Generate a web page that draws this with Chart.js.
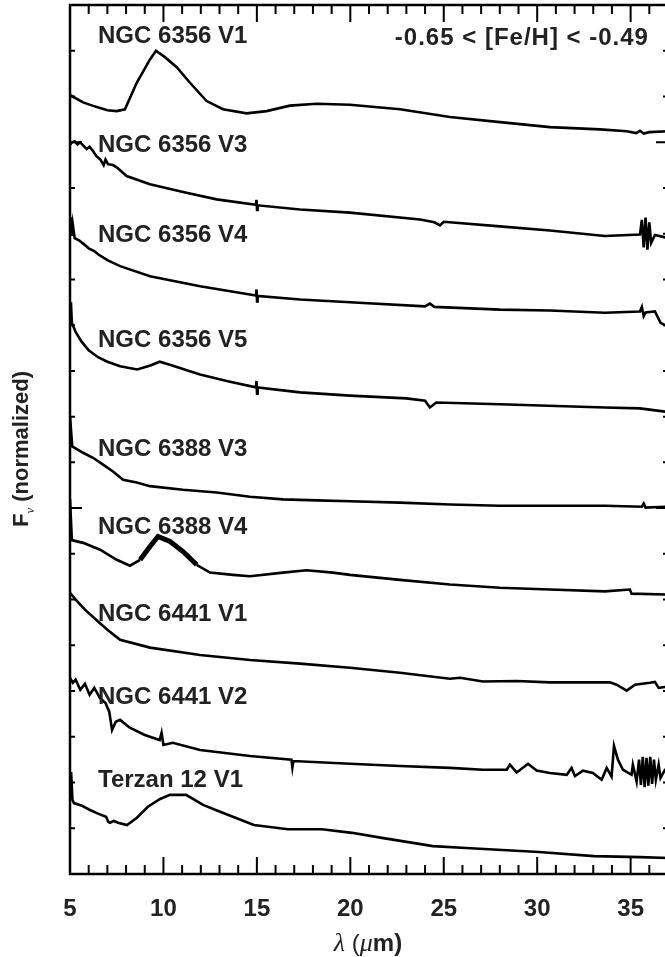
<!DOCTYPE html>
<html>
<head>
<meta charset="utf-8">
<script src="https://cdn.jsdelivr.net/npm/chart.js@4.4.0/dist/chart.umd.min.js"></script>
<style>
  html, body { margin: 0; padding: 0; background: #fff; overflow: hidden; }
  #wrap { width: 668px; height: 957px; }
</style>
</head>
<body>
<div id="wrap"><canvas id="spectra" width="668" height="957"></canvas></div>
<script>
// star names, top to bottom
const starNames = ['NGC 6356 V1', 'NGC 6356 V3', 'NGC 6356 V4', 'NGC 6356 V5',
    'NGC 6388 V3', 'NGC 6388 V4', 'NGC 6441 V1', 'NGC 6441 V2', 'Terzan 12 V1'];

const metallicity = '-0.65 < [Fe/H] < -0.49';

// wavelength (micron) / offset normalized flux
const wl_6356v1 = [5.0, 5.09, 5.7, 6.2, 6.61, 7.0, 7.5, 7.94, 8.57, 9.28, 9.6, 10.08, 10.71, 11.42, 12.31, 13.19, 14.45, 15.52, 16.77, 18.2, 19.98, 22.66, 25.33, 28.01, 30.68, 33.36, 34.8, 35.3, 35.5, 35.7, 36.0, 37.0];
const fl_6356v1 = [17.03, 17.01, 16.87, 16.8, 16.75, 16.7, 16.68, 16.72, 17.3, 17.81, 18.0, 17.86, 17.64, 17.3, 16.9, 16.72, 16.63, 16.68, 16.8, 16.84, 16.82, 16.72, 16.55, 16.44, 16.33, 16.28, 16.24, 16.2, 16.25, 16.19, 16.22, 16.24];

const wl_6356v3 = [5.0, 5.09, 5.25, 5.4, 5.54, 5.7, 5.89, 6.05, 6.23, 6.4, 6.61, 6.8, 6.9, 7.03, 7.3, 7.5, 8.03, 9.28, 11.05, 12.85, 14.95, 14.98, 15.01, 15.04, 17.31, 19.98, 23.73, 24.5, 24.8, 25.0, 28.01, 30.68, 33.62, 35.5, 35.6, 35.7, 35.8, 35.9, 36.0, 36.1, 36.3, 36.84, 37.0];
const fl_6356v3 = [15.95, 15.99, 16.02, 15.95, 16.0, 15.93, 15.85, 15.9, 15.81, 15.7, 15.63, 15.5, 15.62, 15.52, 15.5, 15.45, 15.26, 15.08, 14.91, 14.75, 14.63, 14.74, 14.52, 14.62, 14.53, 14.46, 14.31, 14.25, 14.18, 14.26, 14.16, 14.07, 13.95, 13.98, 14.3, 13.7, 14.35, 13.65, 14.25, 13.8, 13.97, 13.92, 13.92];

const wl_6356v4 = [5.0, 5.05, 5.1, 5.15, 5.25, 5.5, 5.8, 6.0, 6.3, 6.5, 7.0, 7.68, 9.28, 11.96, 14.95, 14.98, 15.01, 15.04, 17.31, 19.98, 24.0, 24.26, 24.5, 28.01, 30.68, 33.62, 35.5, 35.6, 35.7, 35.8, 36.3, 36.6, 36.84, 37.0];
const fl_6356v4 = [14.1, 14.36, 13.95, 14.2, 13.9, 13.85, 13.75, 13.68, 13.62, 13.55, 13.42, 13.29, 13.07, 12.85, 12.65, 12.78, 12.52, 12.64, 12.56, 12.5, 12.41, 12.47, 12.4, 12.34, 12.32, 12.27, 12.3, 12.4, 12.2, 12.28, 12.3, 12.05, 12.0, 12.0];

const wl_6356v5 = [5.0, 5.05, 5.1, 5.3, 5.6, 6.0, 6.5, 7.0, 7.68, 8.6, 9.3, 9.8, 10.3, 11.96, 13.5, 14.95, 14.98, 15.01, 15.04, 17.31, 19.98, 23.0, 24.0, 24.26, 24.6, 28.01, 33.62, 35.5, 36.84, 37.0];
const fl_6356v5 = [12.13, 12.5, 12.05, 11.85, 11.65, 11.45, 11.3, 11.2, 11.1, 11.03, 11.12, 11.2, 11.14, 10.92, 10.77, 10.64, 10.78, 10.5, 10.64, 10.53, 10.46, 10.4, 10.35, 10.2, 10.31, 10.27, 10.2, 10.18, 10.11, 10.11];

const wl_6388v3 = [5.0, 5.12, 5.7, 6.23, 6.77, 7.3, 7.84, 8.57, 9.28, 11.05, 12.85, 14.63, 16.4, 18.2, 19.98, 22.66, 25.33, 28.01, 33.62, 35.6, 35.7, 35.8, 36.84, 37.0];
const fl_6388v3 = [10.01, 9.35, 9.21, 9.1, 8.95, 8.8, 8.62, 8.56, 8.48, 8.4, 8.34, 8.25, 8.19, 8.17, 8.15, 8.12, 8.08, 8.05, 8.05, 8.03, 8.1, 8.01, 8.03, 8.03];

const wl_6388v4 = [5.0, 5.1, 5.7, 6.61, 7.5, 8.21, 8.75, 9.28, 9.71, 10.35, 11.05, 11.78, 12.49, 13.72, 14.63, 16.4, 17.66, 19.07, 19.98, 22.66, 25.33, 28.01, 30.68, 33.62, 34.96, 35.05, 36.84, 37.0];
const fl_6388v4 = [8.2, 7.3, 7.24, 7.09, 6.87, 6.74, 6.87, 7.16, 7.38, 7.27, 7.05, 6.76, 6.59, 6.54, 6.51, 6.59, 6.64, 6.59, 6.54, 6.43, 6.33, 6.26, 6.22, 6.18, 6.22, 6.13, 6.11, 6.11];

const wl_6441v1 = [5.0, 5.3, 5.8, 6.5, 7.0, 7.68, 9.28, 11.96, 14.63, 17.31, 19.98, 22.66, 25.33, 25.87, 27.1, 28.9, 30.68, 33.89, 34.25, 34.79, 35.23, 36.03, 36.3, 36.5, 36.84, 37.0];
const fl_6441v1 = [6.15, 6.0, 5.78, 5.52, 5.34, 5.12, 4.95, 4.79, 4.68, 4.6, 4.51, 4.4, 4.27, 4.29, 4.21, 4.22, 4.19, 4.19, 4.14, 4.01, 4.14, 4.18, 4.2, 4.07, 4.09, 4.09];

const wl_6441v2 = [5.0, 5.15, 5.3, 5.55, 5.8, 6.05, 6.3, 6.6, 6.9, 7.1, 7.25, 7.45, 7.68, 8.2, 9.0, 9.8, 9.9, 10.0, 10.5, 11.96, 14.63, 16.85, 16.9, 16.95, 19.98, 22.66, 25.33, 27.1, 28.37, 28.54, 28.9, 29.51, 29.97, 30.68, 31.58, 31.84, 32.02, 32.45, 32.98, 33.45, 33.72, 33.98, 34.11, 34.32, 34.59, 35.05, 35.12, 35.32, 35.45, 35.55, 35.65, 35.75, 35.85, 35.95, 36.05, 36.15, 36.25, 36.35, 36.5, 36.6, 36.84, 37.0];
const fl_6441v2 = [4.29, 4.18, 4.25, 4.03, 4.16, 3.92, 4.07, 3.85, 3.74, 3.55, 3.15, 3.33, 3.37, 3.2, 3.04, 2.93, 3.09, 2.82, 2.87, 2.71, 2.58, 2.5, 2.33, 2.47, 2.41, 2.36, 2.32, 2.28, 2.28, 2.39, 2.22, 2.41, 2.26, 2.21, 2.17, 2.32, 2.14, 2.26, 2.21, 2.06, 2.32, 2.13, 2.8, 2.5, 2.28, 2.17, 2.39, 2.02, 2.5, 1.95, 2.56, 1.9, 2.54, 1.93, 2.56, 1.97, 2.5, 2.06, 2.39, 2.1, 2.28, 2.28];

const wl_ter12v1 = [5.0, 5.06, 5.13, 5.21, 5.6, 6.07, 6.5, 6.93, 7.05, 7.14, 7.35, 7.57, 8.05, 8.58, 9.17, 9.82, 10.35, 11.21, 12.12, 13.03, 14.84, 16.66, 18.48, 20.09, 21.69, 24.42, 26.19, 30.09, 33.04, 35.5, 37.0];
const fl_ter12v1 = [1.9, 2.23, 1.62, 1.55, 1.5, 1.4, 1.32, 1.25, 1.14, 1.12, 1.16, 1.12, 1.07, 1.23, 1.47, 1.64, 1.73, 1.73, 1.51, 1.36, 1.07, 0.98, 0.98, 0.9, 0.79, 0.61, 0.57, 0.48, 0.39, 0.37, 0.35];

const xTickLabels = [5, 10, 15, 20, 25, 30, 35];

const spectra = [
    [wl_6356v1, fl_6356v1], [wl_6356v3, fl_6356v3], [wl_6356v4, fl_6356v4],
    [wl_6356v5, fl_6356v5], [wl_6388v3, fl_6388v3], [wl_6388v4, fl_6388v4],
    [wl_6441v1, fl_6441v1], [wl_6441v2, fl_6441v2], [wl_ter12v1, fl_ter12v1]
];

// where the star names sit (data coords: left edge, vertical middle)
const nameAnchor = { x: 6.5, y: [18.32, 15.93, 13.96, 11.66, 9.28, 7.57, 5.67, 3.87, 2.04] };

const labelFont = 'bold 24px "Liberation Sans", Arial, sans-serif';

const decorations = {
    id: 'decorations',
    afterDatasetsDraw(chart) {
        const { ctx, chartArea: a, scales: { x, y } } = chart;
        ctx.save();
        ctx.strokeStyle = '#000';
        ctx.lineCap = 'butt';

        // inward ticks on all four sides
        ctx.lineWidth = 2;
        ctx.beginPath();
        for (let w = 5; w <= 37; w++) {
            const px = x.getPixelForValue(w);
            const len = w % 5 === 0 ? 17 : 9;
            ctx.moveTo(px, a.bottom); ctx.lineTo(px, a.bottom - len);
            ctx.moveTo(px, a.top); ctx.lineTo(px, a.top + len);
        }
        for (let v = 0; v <= 19; v++) {
            const py = y.getPixelForValue(v);
            const len = v % 8 === 0 ? 12 : 5;
            ctx.moveTo(a.left, py); ctx.lineTo(a.left + len, py);
            ctx.moveTo(a.right, py); ctx.lineTo(a.right - len, py);
        }
        ctx.stroke();

        ctx.lineWidth = 2.5;
        ctx.strokeRect(a.left, a.top, a.right - a.left, a.bottom - a.top);

        // star names
        ctx.fillStyle = '#222';
        ctx.font = labelFont;
        ctx.textBaseline = 'middle';
        ctx.textAlign = 'left';
        const lx = x.getPixelForValue(nameAnchor.x);
        starNames.forEach((n, i) => {
            ctx.fillText(n, lx, y.getPixelForValue(nameAnchor.y[i]));
        });
        ctx.textAlign = 'right';
        ctx.letterSpacing = '1px';
        ctx.fillText(metallicity, x.getPixelForValue(35.98), y.getPixelForValue(18.28));
        ctx.letterSpacing = '0px';

        // x title: lambda (mu m)
        const parts = [
            ['λ', 'italic 26px "Liberation Serif", serif'],
            [' (', '24px "Liberation Sans", sans-serif'],
            ['μ', 'italic 26px "Liberation Serif", serif'],
            ['m)', 'bold 24px "Liberation Sans", sans-serif']
        ];
        let total = 0;
        parts.forEach(p => { ctx.font = p[1]; total += ctx.measureText(p[0]).width; });
        let cx = 368 - total / 2;
        ctx.textAlign = 'left';
        ctx.textBaseline = 'alphabetic';
        parts.forEach(p => { ctx.font = p[1]; ctx.fillText(p[0], cx, 951); cx += ctx.measureText(p[0]).width; });

        // y title: F_nu (normalized)
        ctx.translate(28, 449);
        ctx.rotate(-Math.PI / 2);
        ctx.font = 'bold 22px "Liberation Sans", sans-serif';
        const wF = ctx.measureText('F').width;
        const rest = ' (normalized)';
        const wR = ctx.measureText(rest).width;
        ctx.font = 'italic 13px "Liberation Serif", serif';
        const wN = ctx.measureText('ν').width;
        let sx = -(wF + wN + wR) / 2;
        ctx.font = 'bold 22px "Liberation Sans", sans-serif';
        ctx.fillText('F', sx, 0); sx += wF;
        ctx.font = 'italic 13px "Liberation Serif", serif';
        ctx.fillText('ν', sx, 6); sx += wN;
        ctx.font = 'bold 22px "Liberation Sans", sans-serif';
        ctx.fillText(rest, sx, 0);
        ctx.restore();
    }
};

const datasets = spectra.map((s, i) => ({
    label: starNames[i],
    data: s[0].map((w, j) => ({ x: w, y: s[1][j] })),
    borderColor: '#000',
    borderWidth: 2.6,
    pointRadius: 0,
    tension: 0,
    fill: false,
    // the NGC 6388 V4 silicate bump is drawn as a thicker band
    segment: i === 5 ? {
        borderWidth: c => (c.p0.parsed.x >= 8.75 && c.p1.parsed.x <= 11.8) ? 5 : 2.6
    } : undefined
}));

new Chart(document.getElementById('spectra'), {
    type: 'line',
    data: { datasets },
    options: {
        responsive: false,
        animation: false,
        layout: { padding: { top: 5, right: 0, left: 0, bottom: 0 } },
        plugins: { legend: { display: false }, tooltip: { enabled: false } },
        scales: {
            x: {
                type: 'linear',
                min: 5,
                max: 37,
                grid: { display: false, drawTicks: false },
                border: { display: false },
                ticks: {
                    autoSkip: false,
                    maxRotation: 0,
                    padding: 21,
                    color: '#222',
                    font: { family: '"Liberation Sans", Arial, sans-serif', size: 24, weight: 'bold' }
                },
                afterBuildTicks: s => { s.ticks = xTickLabels.map(v => ({ value: v })); },
                afterFit: s => { s.height = 83; s.paddingLeft = 0; s.paddingRight = 0; }
            },
            y: {
                min: 0,
                max: 19,
                grid: { display: false, drawTicks: false },
                border: { display: false },
                ticks: { display: false },
                afterFit: s => { s.width = 70; }
            }
        }
    },
    plugins: [decorations]
});
</script>
</body>
</html>
